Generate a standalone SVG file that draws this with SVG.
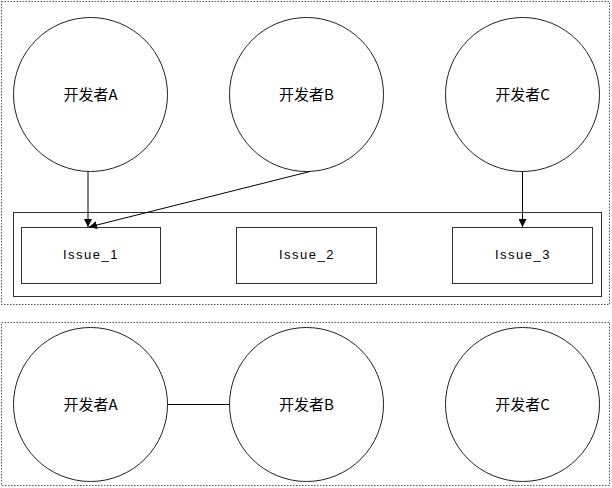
<svg xmlns="http://www.w3.org/2000/svg" width="612" height="488" viewBox="0 0 612 488">
<style>
.frame{fill:none;stroke:#555;stroke-width:1;stroke-dasharray:1.5 1.5}
.circle{fill:#fff;stroke:#222;stroke-width:1}
.box{fill:#fff;stroke:#333;stroke-width:1}
.cn{font-family:"Noto Sans CJK SC","Noto Sans",sans-serif;font-size:15px;fill:#000;text-anchor:middle;dominant-baseline:central}
.en{font-family:"Liberation Sans",Arial,sans-serif;font-size:13px;fill:#000;text-anchor:middle;dominant-baseline:central;letter-spacing:1.5px}
.edge{fill:none;stroke:#000;stroke-width:1}
</style>
<defs>
<marker id="arr" viewBox="0 0 10 10" refX="10" refY="5" markerWidth="8" markerHeight="8" markerUnits="userSpaceOnUse" orient="auto">
<path d="M0,0 L10,5 L0,10 z" fill="#000"/>
</marker>
</defs>
<rect class="frame" x="1.5" y="1.5" width="608" height="303"/>
<rect class="frame" x="1.5" y="322.5" width="608" height="163"/>
<g id="container"><rect class="box" x="13.5" y="212.5" width="588" height="84"/></g>
<g id="devA"><circle class="circle" cx="90.5" cy="94.5" r="77"/><text class="cn" x="90.5" y="93.5">开发者A</text></g>
<g id="devB"><circle class="circle" cx="306.5" cy="94.5" r="77"/><text class="cn" x="306.5" y="93.5">开发者B</text></g>
<g id="devC"><circle class="circle" cx="522.5" cy="94.5" r="77"/><text class="cn" x="522.5" y="93.5">开发者C</text></g>
<g id="issue1"><rect class="box" x="21.5" y="227.5" width="139" height="56"/><text class="en" x="91" y="254">Issue_1</text></g>
<g id="issue2"><rect class="box" x="236.5" y="227.5" width="140" height="56"/><text class="en" x="307" y="254">Issue_2</text></g>
<g id="issue3"><rect class="box" x="452.5" y="227.5" width="140" height="56"/><text class="en" x="523" y="254">Issue_3</text></g>
<g id="devA2"><circle class="circle" cx="90.5" cy="404.5" r="77"/><text class="cn" x="90.5" y="403.5">开发者A</text></g>
<g id="devB2"><circle class="circle" cx="306.5" cy="404.5" r="77"/><text class="cn" x="306.5" y="403.5">开发者B</text></g>
<g id="devC2"><circle class="circle" cx="522.5" cy="404.5" r="77"/><text class="cn" x="522.5" y="403.5">开发者C</text></g>
<g id="connectors">
<line class="edge" x1="88" y1="171.5" x2="88" y2="227" marker-end="url(#arr)"/>
<line class="edge" x1="310" y1="171.5" x2="89" y2="227" marker-end="url(#arr)"/>
<line class="edge" x1="522.5" y1="171.5" x2="522.5" y2="227" marker-end="url(#arr)"/>
<line class="edge" x1="167.5" y1="404.5" x2="229.5" y2="404.5"/>
</g>
</svg>
